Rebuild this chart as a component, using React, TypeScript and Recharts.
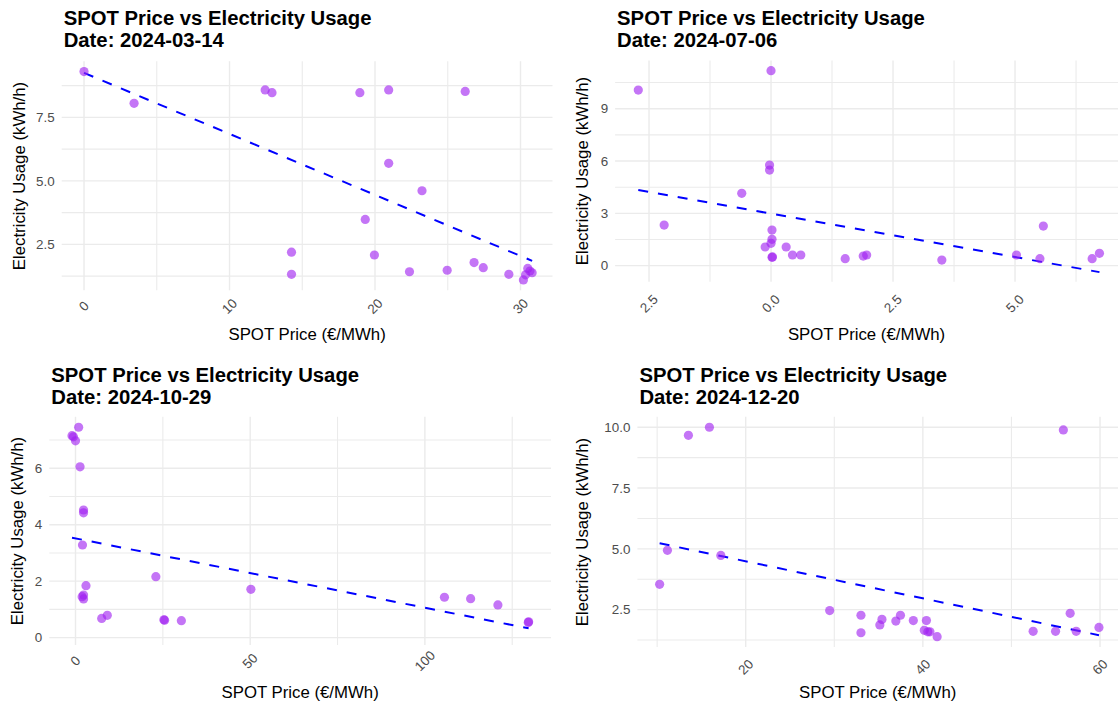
import React from "react";
import { ScatterChart, Scatter, XAxis, YAxis, ReferenceLine } from "recharts";

const FONT = '"Liberation Sans", Arial, Helvetica, sans-serif';

// --- 2024-03-14 ---
const priceMar = [0, 3.44, 12.45, 12.92, 14.26, 14.26, 18.96, 19.33, 19.96, 20.94, 20.94, 22.37, 23.23, 24.96, 26.2, 26.81, 27.44, 29.2, 30.2, 30.35, 30.5, 30.65, 30.8];
const usageMar = [9.3, 8.05, 8.58, 8.47, 2.19, 1.32, 8.47, 3.48, 2.08, 8.58, 5.69, 1.42, 4.61, 1.48, 8.52, 1.78, 1.58, 1.32, 1.1, 1.3, 1.55, 1.45, 1.38];
const trendMar = [{ x: 0, y: 9.25 }, { x: 30.8, y: 1.85 }];
const xTicksMar = [0, 10, 20, 30];
const xLabelsMar = ["0", "10", "20", "30"];
const xMinorMar = [5, 15, 25];
const yTicksMar = [2.5, 5, 7.5];
const yLabelsMar = ["2.5", "5.0", "7.5"];
const yMinorMar = [1.25, 3.75, 6.25, 8.75];

// --- 2024-07-06 ---
const priceJul = [-2.72, -2.19, -0.6, 0, -0.03, -0.03, 0.02, 0.02, 0, -0.12, 0.03, 0.02, 0.31, 0.44, 0.61, 1.52, 1.89, 1.96, 3.5, 5.03, 5.51, 5.58, 6.58, 6.73];
const usageJul = [10.07, 2.33, 4.15, 11.18, 5.77, 5.48, 2.04, 1.51, 1.28, 1.07, 0.5, 0.48, 1.07, 0.61, 0.61, 0.4, 0.55, 0.61, 0.32, 0.61, 0.4, 2.27, 0.4, 0.71];
const trendJul = [{ x: -2.72, y: 4.34 }, { x: 6.73, y: -0.37 }];
const xTicksJul = [-2.5, 0, 2.5, 5];
const xLabelsJul = ["2.5", "0.0", "2.5", "5.0"];
const xMinorJul = [-1.25, 1.25, 3.75, 6.25];
const yTicksJul = [0, 3, 6, 9];
const yLabelsJul = ["0", "3", "6", "9"];
const yMinorJul = [1.5, 4.5, 7.5, 10.5];

// --- 2024-10-29 ---
const priceOct = [-1, -0.6, 0, 0.9, 1.3, 2.3, 2.3, 2, 3, 2.3, 1.9, 2.3, 7.5, 9.1, 23, 25.3, 25.5, 30.3, 50.2, 105.6, 113.1, 120.9, 129.6, 129.7];
const usageOct = [7.15, 7.11, 6.97, 7.45, 6.05, 4.52, 4.42, 3.28, 1.84, 1.51, 1.45, 1.37, 0.68, 0.79, 2.16, 0.63, 0.62, 0.6, 1.71, 1.43, 1.38, 1.16, 0.54, 0.56];
const trendOct = [{ x: -1, y: 3.54 }, { x: 129.7, y: 0.33 }];
const xTicksOct = [0, 50, 100];
const xLabelsOct = ["0", "50", "100"];
const xMinorOct = [25, 75, 125];
const yTicksOct = [0, 2, 4, 6];
const yLabelsOct = ["0", "2", "4", "6"];
const yMinorOct = [1, 3, 5, 7];

// --- 2024-12-20 ---
const priceDec = [10.28, 11.16, 13.53, 15.9, 17.19, 29.48, 33.01, 33.01, 35.14, 35.38, 36.95, 37.47, 38.92, 40.4, 40.16, 40.56, 40.8, 41.61, 52.45, 54.98, 55.86, 56.63, 57.31, 59.88];
const usageDec = [3.54, 4.94, 9.67, 10.0, 4.73, 2.46, 2.27, 1.55, 1.87, 2.1, 2.03, 2.27, 2.05, 2.05, 1.65, 1.59, 1.59, 1.39, 1.61, 1.61, 9.89, 2.35, 1.61, 1.77];
const trendDec = [{ x: 10.28, y: 5.23 }, { x: 59.88, y: 1.45 }];
const xTicksDec = [20, 40, 60];
const xLabelsDec = ["20", "40", "60"];
const xMinorDec = [10, 30, 50];
const yTicksDec = [2.5, 5, 7.5, 10];
const yLabelsDec = ["2.5", "5.0", "7.5", "10.0"];
const yMinorDec = [1.25, 3.75, 6.25, 8.75];

const toPoints = (xs: number[], ys: number[]) => xs.map((x, i) => ({ x, y: ys[i] }));

const panels = [
  {
    date: "2024-03-14",
    data: toPoints(priceMar, usageMar),
    trend: trendMar,
    xTicks: xTicksMar, xLabels: xLabelsMar, xMinor: xMinorMar,
    yTicks: yTicksMar, yLabels: yLabelsMar, yMinor: yMinorMar,
    xDomain: [-1.535, 32.2], yDomain: [0.69, 9.71],
    box: { x: 0, y: 0, w: 559, h: 353 },
    plot: { l: 61.7, t: 61.2, r: 552.5, b: 290.3 },
    yTitleX: 19.5, xTitleY: 335, titleTop: 7, xLabelDy: 16,
  },
  {
    date: "2024-07-06",
    data: toPoints(priceJul, usageJul),
    trend: trendJul,
    xTicks: xTicksJul, xLabels: xLabelsJul, xMinor: xMinorJul,
    yTicks: yTicksJul, yLabels: yLabelsJul, yMinor: yMinorJul,
    xDomain: [-3.195, 7.11], yDomain: [-0.92, 11.76],
    box: { x: 559, y: 0, w: 559, h: 353 },
    plot: { l: 615.1, t: 60.6, r: 1118, b: 281.7 },
    yTitleX: 583, xTitleY: 335, titleTop: 7, xLabelDy: 22,
  },
  {
    date: "2024-10-29",
    data: toPoints(priceOct, usageOct),
    trend: trendOct,
    xTicks: xTicksOct, xLabels: xLabelsOct, xMinor: xMinorOct,
    yTicks: yTicksOct, yLabels: yLabelsOct, yMinor: yMinorOct,
    xDomain: [-7.5, 136.1], yDomain: [-0.26, 7.82],
    box: { x: 0, y: 353, w: 559, h: 353 },
    plot: { l: 49.3, t: 416.8, r: 551, b: 645 },
    yTitleX: 18.4, xTitleY: 693, titleTop: 364, xLabelDy: 16,
  },
  {
    date: "2024-12-20",
    data: toPoints(priceDec, usageDec),
    trend: trendDec,
    xTicks: xTicksDec, xLabels: xLabelsDec, xMinor: xMinorDec,
    yTicks: yTicksDec, yLabels: yLabelsDec, yMinor: yMinorDec,
    xDomain: [7.77, 62.03], yDomain: [0.96, 10.43],
    box: { x: 559, y: 353, w: 559, h: 353 },
    plot: { l: 637.4, t: 416.8, r: 1118, b: 647.1 },
    yTitleX: 583, xTitleY: 693, titleTop: 364, xLabelDy: 20,
  },
];

const GRID = "#EBEBEB";
const TICK_SIZE = 13.4;

const Dot = (props: any) => (
  <circle cx={props.cx} cy={props.cy} r={4.6} fill="#A020F0" fillOpacity={0.62} />
);

function Panel({ p }: { p: any }) {
  const { box, plot } = p;
  const chartBottom = plot.b - box.y;

  const XTick = (props: any) => {
    const i = p.xTicks.indexOf(props.payload.value);
    const label = i >= 0 ? p.xLabels[i] : "";
    const cy = chartBottom + p.xLabelDy;
    return (
      <text
        x={props.x}
        y={cy}
        textAnchor="middle"
        dominantBaseline="central"
        transform={`rotate(-45, ${props.x}, ${cy})`}
        fill="#4D4D4D"
        fontSize={TICK_SIZE}
        fontFamily={FONT}
      >
        {label}
      </text>
    );
  };

  return (
    <>
      <div
        style={{
          position: "absolute",
          left: box.x,
          top: box.y,
          width: box.w,
          height: box.h,
        }}
      >
        <ScatterChart
          width={box.w}
          height={box.h}
          margin={{
            top: plot.t - box.y,
            left: 0,
            right: box.x + box.w - plot.r,
            bottom: 0,
          }}
        >
          <XAxis
            type="number"
            dataKey="x"
            domain={p.xDomain}
            ticks={p.xTicks}
            interval={0}
            allowDataOverflow
            axisLine={false}
            tickLine={false}
            tickSize={0}
            height={box.y + box.h - plot.b}
            tick={<XTick />}
          />
          <YAxis
            type="number"
            dataKey="y"
            domain={p.yDomain}
            ticks={p.yTicks}
            interval={0}
            allowDataOverflow
            axisLine={false}
            tickLine={false}
            tickSize={0}
            tickMargin={7}
            width={plot.l - box.x}
            tickFormatter={(v: number) => {
              const i = p.yTicks.indexOf(v);
              return i >= 0 ? p.yLabels[i] : "";
            }}
            tick={{ fill: "#4D4D4D", fontSize: TICK_SIZE, fontFamily: FONT }}
          />
          {/* grid: minor then major */}
          {p.xMinor.map((v: number) => (
            <ReferenceLine key={"vx" + v} x={v} stroke={GRID} strokeWidth={1.1} />
          ))}
          {p.yMinor.map((v: number) => (
            <ReferenceLine key={"hy" + v} y={v} stroke={GRID} strokeWidth={1.1} />
          ))}
          {p.xTicks.map((v: number) => (
            <ReferenceLine key={"VX" + v} x={v} stroke={GRID} strokeWidth={1.4} />
          ))}
          {p.yTicks.map((v: number) => (
            <ReferenceLine key={"HY" + v} y={v} stroke={GRID} strokeWidth={1.4} />
          ))}
          <Scatter data={p.data} shape={<Dot />} isAnimationActive={false} />
          <ReferenceLine
            segment={p.trend}
            stroke="#0000FF"
            strokeWidth={2}
            strokeDasharray="10 10"
          />
        </ScatterChart>
      </div>

      {/* titles */}
      <div
        style={{
          position: "absolute",
          left: plot.l + 2,
          top: p.titleTop,
          fontFamily: FONT,
          fontWeight: "bold",
          fontSize: 20.3,
          lineHeight: "22px",
          color: "#000",
          whiteSpace: "nowrap",
        }}
      >
        SPOT Price vs Electricity Usage
        <br />
        Date: {p.date}
      </div>
      <div
        style={{
          position: "absolute",
          left: p.yTitleX,
          top: (plot.t + plot.b) / 2,
          transform: "translate(-50%, -50%) rotate(-90deg)",
          fontFamily: FONT,
          fontSize: 16.8,
          color: "#000",
          whiteSpace: "nowrap",
        }}
      >
        Electricity Usage (kWh/h)
      </div>
      <div
        style={{
          position: "absolute",
          left: (plot.l + plot.r) / 2,
          top: p.xTitleY,
          transform: "translate(-50%, -50%)",
          fontFamily: FONT,
          fontSize: 16.8,
          color: "#000",
          whiteSpace: "nowrap",
        }}
      >
        SPOT Price (€/MWh)
      </div>
    </>
  );
}

export default function App() {
  return (
    <div
      style={{
        position: "absolute",
        left: 0,
        top: 0,
        width: 1118,
        height: 706,
        background: "#fff",
        overflow: "hidden",
      }}
    >
      {panels.map((p) => (
        <Panel key={p.date} p={p} />
      ))}
    </div>
  );
}
